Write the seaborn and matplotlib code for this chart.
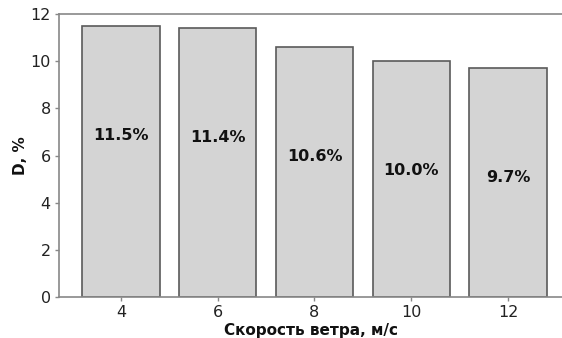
import matplotlib
matplotlib.use("Agg")
import matplotlib.pyplot as plt
import seaborn as sns
import pandas as pd

speeds = ["4", "6", "8", "10", "12"]
values = [11.5, 11.4, 10.6, 10.0, 9.7]
labels = ["11.5%", "11.4%", "10.6%", "10.0%", "9.7%"]
yticks = [0, 2, 4, 6, 8, 10, 12]

sns.set_style("white")
plt.rcParams['font.family'] = ['DejaVu Sans']

df = pd.DataFrame({"speed": speeds, "D": values})

fig = plt.figure(figsize=(5.62, 3.38), dpi=100)
ax = fig.add_axes([59/562, 1 - 297/338, 1 - 59/562, (297 - 14)/338])

sns.barplot(data=df, x="speed", y="D", order=speeds, color="#d4d4d4",
            edgecolor="#5a5a5a", linewidth=1.2, width=0.8, saturation=1, ax=ax)

for i, (v, lab) in enumerate(zip(values, labels)):
    ax.text(i, v - 4.65, lab, ha="center", va="center", fontsize=11.5,
            fontweight="bold", color="#111111")

ax.set_xlim(-0.639, 4.557)
ax.set_ylim(0, 12)
ax.set_yticks(yticks)
ax.set_xlabel("Скорость ветра, м/с", fontsize=11, fontweight="bold",
              labelpad=2, color="#111111")
ax.set_ylabel("D, %", fontsize=11, fontweight="bold", labelpad=2,
              color="#111111")
ax.tick_params(axis="both", labelsize=11.5, length=3, width=1, color="#888888",
               labelcolor="#222222", direction="out", bottom=True, left=True, pad=3)
for s in ["left", "bottom", "top"]:
    ax.spines[s].set_color("#888888")
    ax.spines[s].set_linewidth(1.2)
ax.spines["right"].set_visible(False)

fig.savefig("out.png", dpi=100)
